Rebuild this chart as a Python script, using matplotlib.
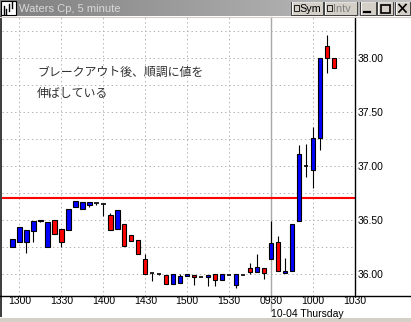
import numpy as np
import matplotlib
matplotlib.use("Agg")
import matplotlib.pyplot as plt
from matplotlib.patches import Rectangle

# ---- data ----
times = ['1255', '1300', '1305', '1310', '1315', '1320', '1325', '1330', '1335', '1340',
         '1345', '1350', '1355', '1400', '1405', '1410', '1415', '1420', '1425', '1430',
         '1435', '1440', '1445', '1450', '1455', '1500', '1505', '1510', '1515', '1520',
         '1525', '1530', '1535', '1540', '1545', '1550', '1555', '0930', '0935', '0940',
         '0945', '0950', '0955', '1000', '1005', '1010', '1015']
opens = [36.25, 36.30, 36.30, 36.40, 36.49, 36.25, 36.50, 36.42, 36.41, 36.62,
         36.60, 36.64, 36.655, 36.653, 36.55, 36.42, 36.465, 36.365, 36.315, 36.14,
         36.01, 36.00, 35.99, 35.91, 35.92, 35.985, 35.995, 35.975, 35.975, 36.00,
         35.95, 35.995, 35.90, 35.99, 36.06, 36.02, 36.06, 36.145, 36.30, 36.01,
         36.035, 36.49, 37.00, 36.965, 37.255, 38.11, 38.00]
highs = [36.33, 36.44, 36.41, 36.49, 36.50, 36.485, 36.50, 36.42, 36.60, 36.675,
         36.665, 36.665, 36.655, 36.653, 36.565, 36.59, 36.465, 36.365, 36.315, 36.19,
         36.01, 36.00, 35.995, 36.00, 36.00, 36.005, 35.995, 35.975, 35.995, 36.00,
         36.00, 35.995, 36.00, 35.995, 36.10, 36.19, 36.06, 36.49, 36.355, 36.155,
         36.46, 37.195, 37.205, 37.36, 38.00, 38.21, 38.00]
lows = [36.25, 36.30, 36.20, 36.30, 36.48, 36.25, 36.37, 36.25, 36.41, 36.62,
        36.60, 36.625, 36.64, 36.535, 36.41, 36.42, 36.26, 36.305, 36.19, 36.00,
        35.935, 35.99, 35.91, 35.91, 35.92, 35.985, 35.90, 35.975, 35.89, 35.895,
        35.95, 35.995, 35.87, 35.99, 36.00, 36.02, 35.955, 36.145, 36.035, 36.01,
        36.035, 36.49, 36.90, 36.80, 37.15, 37.855, 37.90]
closes = [36.33, 36.44, 36.41, 36.49, 36.50, 36.485, 36.37, 36.30, 36.60, 36.675,
          36.665, 36.665, 36.655, 36.653, 36.41, 36.59, 36.26, 36.305, 36.19, 36.00,
          36.01, 36.00, 35.91, 36.00, 35.985, 36.005, 35.975, 35.975, 35.995, 35.95,
          36.00, 35.995, 36.00, 35.99, 36.02, 36.065, 36.01, 36.29, 36.035, 36.035,
          36.46, 37.11, 37.00, 37.255, 38.00, 38.00, 37.90]
breakout_level = 36.70
xtick_labels = ['1300', '1330', '1400', '1430', '1500', '1530', '0930', '1000', '1030']
xtick_pos = [1, 7, 13, 19, 25, 31, 37, 43, 49]
ytick_vals = [36.00, 36.50, 37.00, 37.50, 38.00]
ytick_labels = ['36.00', '36.50', '37.00', '37.50', '38.00']
title_text = 'Waters Cp, 5 minute'
note_lines = ['ブレークアウト後、順調に値を', '伸ばしている']
date_label = '10-04 Thursday'

W, H = 411, 322
fig = plt.figure(figsize=(W / 100, H / 100), dpi=100)
fig.patch.set_facecolor('white')

def fx(px):
    return px / W

def fy(py):
    return 1 - py / H

# main axes: x 2..355, y 17..296
L, R, T, B = 2, 355, 17, 296
ax = fig.add_axes([fx(L), fy(B), fx(R - L), (B - T) / H])
ax.set_facecolor('white')
ax.set_xlim(-1.5, 49)
ax.set_ylim(35.80, 38.375)

for s in ['top', 'left', 'bottom']:
    ax.spines[s].set_visible(False)
ax.spines['right'].set_color('black')
ax.spines['right'].set_linewidth(1.0)

# grid
grid_kw = dict(color='#b4b4b4', lw=0.72, linestyle=(0, (1.4, 2.8)), zorder=0)
for yv in np.arange(36.0, 38.3, 0.25):
    ax.axhline(yv, **grid_kw)
for xv in xtick_pos:
    if xv not in (37, 49):
        ax.axvline(xv, **grid_kw)
# day separator
ax.axvline(37, ymin=-0.054, ymax=1, color='#a8a8a8', lw=1.0, clip_on=False, zorder=0.5)

# breakout line
ax.axhline(breakout_level, color='#ff0000', lw=1.5, zorder=1)

# candles
x = np.arange(len(times))
o = np.array(opens); c = np.array(closes); h = np.array(highs); l = np.array(lows)
ax.vlines(x, l, h, color='black', lw=0.8, zorder=2)
bw = 0.62
for xi, oi, ci in zip(x, o, c):
    if abs(ci - oi) < 0.004:
        ax.hlines(oi, xi - bw / 2, xi + bw / 2, color='black', lw=1.2, zorder=3)
    else:
        col = '#0000ff' if ci > oi else '#ff0000'
        ax.bar(xi, abs(ci - oi), bottom=min(oi, ci), width=bw, color=col,
               edgecolor='black', linewidth=0.8, zorder=3)

# ticks
ax.set_xticks(xtick_pos)
ax.set_xticklabels(xtick_labels, fontsize=7.5, family='Liberation Sans')
ax.tick_params(axis='x', length=0, pad=0.3)
ax.yaxis.tick_right()
ax.set_yticks(ytick_vals)
ax.set_yticklabels(ytick_labels, fontsize=7.5, family='Liberation Sans')
ax.tick_params(axis='y', length=0, pad=2)

# overlay for window chrome
ov = fig.add_axes([0, 0, 1, 1], zorder=5)
ov.set_xlim(0, W)
ov.set_ylim(H, 0)
ov.axis('off')
ov.patch.set_alpha(0)

# bottom axis line across full width
ov.plot([0, W], [B, B], color='black', lw=1.0)
# left border
ov.add_patch(Rectangle((0, 0), 2, H, color='#404040', lw=0))
# bottom gray band
ov.add_patch(Rectangle((0, 317), W, 5, color='#d4d0c8', lw=0))
ov.plot([0, W], [317, 317], color='#ffffff', lw=0.7)

# title bar gradient
grad = np.linspace(0, 1, 256)
r = 0.50 + 0.26 * grad
img = np.dstack([r, r, r])[None, :, :].repeat(2, axis=0).reshape(2, 256, 3)
ov.imshow(img, extent=[0, W, 16, 0], aspect='auto', zorder=1)
ov.plot([0, W], [16.5, 16.5], color='#d4d0c8', lw=0.8, zorder=2)
# icon
ov.add_patch(Rectangle((1, 1), 15, 14, facecolor='white', edgecolor='black', lw=0.8, zorder=3))
for xx, y0, y1 in [(4, 6, 14), (6, 9, 14), (9, 4, 11), (12, 2, 8)]:
    ov.plot([xx, xx], [y0, y1], color='black', lw=1.0, zorder=4)
ov.text(19, 8.5, title_text, fontsize=8, family='Liberation Sans', color='#d8d8d8',
        va='center', ha='left', zorder=4)

def button(x0, x1, label=None, col='black'):
    ov.add_patch(Rectangle((x0, 1.5), x1 - x0, 13.5, facecolor='#d4d0c8',
                           edgecolor='#404040', lw=0.7, zorder=3))
    ov.plot([x0 + 0.8, x1 - 0.8], [2.3, 2.3], color='white', lw=0.6, zorder=4)
    ov.plot([x0 + 0.8, x0 + 0.8], [2.3, 14.2], color='white', lw=0.6, zorder=4)
    if label:
        ov.add_patch(Rectangle((x0 + 2.5, 5), 5.5, 6, facecolor='#d4d0c8',
                               edgecolor='black', lw=0.6, zorder=4))
        ov.text(x0 + 8.5, 8.6, label, fontsize=7.8, family='Liberation Sans', color=col,
                va='center', ha='left', zorder=4)

button(291, 323, 'Sym')
button(324, 357, 'Intv', '#808080')
button(360, 376)
button(377, 393)
button(395, 410)
ov.plot([364, 370], [12, 12], color='black', lw=1.6, zorder=5)
ov.add_patch(Rectangle((380.5, 4.5), 9, 8, facecolor='none', edgecolor='black', lw=1.2, zorder=5))
ov.plot([399, 406], [4.5, 12], color='black', lw=1.2, zorder=5)
ov.plot([399, 406], [12, 4.5], color='black', lw=1.2, zorder=5)

# annotation
ov.text(37, 72.5, note_lines[0], fontsize=8.6, family=['Noto Sans CJK JP', 'DejaVu Sans'],
        color='#303030', va='center', ha='left', zorder=4)
ov.text(37, 93, note_lines[1], fontsize=8.6, family=['Noto Sans CJK JP', 'DejaVu Sans'],
        color='#303030', va='center', ha='left', zorder=4)

# date label
ov.text(271, 308.6, date_label, fontsize=7.5, family='Liberation Sans', color='black',
        va='top', ha='left', zorder=4)

fig.savefig('out.png', dpi=100)
